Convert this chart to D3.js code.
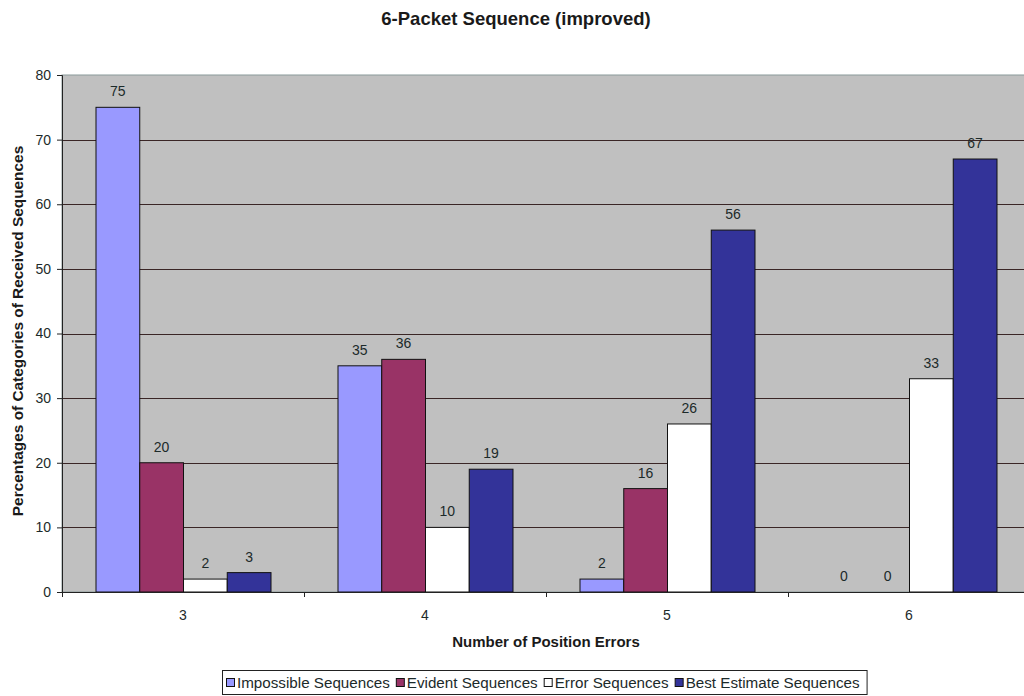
<!DOCTYPE html>
<html>
<head>
<meta charset="utf-8">
<script src="https://cdn.jsdelivr.net/npm/d3@7"></script>
<style>
  html, body { margin: 0; padding: 0; background: #fff; }
  svg { display: block; font-family: "Liberation Sans", Arial, sans-serif; }
</style>
</head>
<body>
<svg id="chart" width="1024" height="696"></svg>
<script>
// Number of position errors (x categories)
const categories = ["3", "4", "5", "6"];
// Series names
const seriesNames = ["Impossible Sequences", "Evident Sequences", "Error Sequences", "Best Estimate Sequences"];
// Percentages per series, one value per category
const impossible   = [75, 35, 2, 0];
const evident      = [20, 36, 16, 0];
const errorSeq     = [2, 10, 26, 33];
const bestEstimate = [3, 19, 56, 67];
const yTicks = [0, 10, 20, 30, 40, 50, 60, 70, 80];
const seriesColors = ["#9999FF", "#993366", "#FFFFFF", "#333399"];

const seriesValues = [impossible, evident, errorSeq, bestEstimate];

const svg = d3.select("#chart");
const plot = { left: 62, top: 75, right: 1030, bottom: 592 };

const x0 = d3.scaleBand().domain(categories).range([plot.left, plot.right]).padding(0);
const x1 = d3.scaleBand().domain(d3.range(seriesNames.length))
  .range([34, x0.bandwidth() - 33]).padding(0);
const y = d3.scaleLinear().domain([0, 80]).range([plot.bottom, plot.top]);

// Plot area background
svg.append("rect")
  .attr("x", plot.left).attr("y", plot.top)
  .attr("width", plot.right - plot.left).attr("height", plot.bottom - plot.top)
  .attr("fill", "#C0C0C0").attr("stroke", "#8a9a9a").attr("stroke-width", 1);

// Horizontal gridlines
svg.append("g")
  .selectAll("line")
  .data(yTicks.filter(t => t > 0 && t < 80))
  .join("line")
  .attr("x1", plot.left).attr("x2", plot.right)
  .attr("y1", d => Math.round(y(d)) + 0.5).attr("y2", d => Math.round(y(d)) + 0.5)
  .attr("stroke", "#3a2626").attr("stroke-width", 1);

// Bars
const groups = svg.append("g")
  .selectAll("g")
  .data(categories)
  .join("g")
  .attr("transform", d => `translate(${x0(d)},0)`);

groups.selectAll("rect")
  .data((c, ci) => seriesValues.map((vals, si) => ({ si, v: vals[ci] })))
  .join("rect")
  .filter(d => d.v > 0)
  .attr("x", d => x1(d.si))
  .attr("y", d => y(d.v))
  .attr("width", x1.bandwidth())
  .attr("height", d => y(0) - y(d.v))
  .attr("fill", d => seriesColors[d.si])
  .attr("stroke", "#111")
  .attr("stroke-width", 1);

// Value labels
groups.selectAll("text")
  .data((c, ci) => seriesValues.map((vals, si) => ({ si, v: vals[ci] })))
  .join("text")
  .attr("x", d => x1(d.si) + x1.bandwidth() / 2)
  .attr("y", d => y(d.v) - 11)
  .attr("text-anchor", "middle")
  .attr("font-size", 14)
  .attr("fill", "#1c2a2a")
  .text(d => d.v);

// Y axis
const yAxis = d3.axisLeft(y).tickValues(yTicks).tickSize(5).tickPadding(6).tickFormat(d3.format("d"));
const gy = svg.append("g").attr("transform", `translate(${plot.left},0)`).call(yAxis);
gy.select(".domain").attr("stroke", "#222");
gy.selectAll(".tick line").attr("stroke", "#222");
gy.selectAll(".tick text").attr("font-size", 14).attr("fill", "#1c2a2a")
  .attr("font-family", "Liberation Sans, Arial, sans-serif");

// X axis with tick marks at category boundaries
const xAxisLine = svg.append("g");
xAxisLine.append("line")
  .attr("x1", plot.left).attr("x2", plot.right)
  .attr("y1", plot.bottom + 0.5).attr("y2", plot.bottom + 0.5)
  .attr("stroke", "#222");
xAxisLine.selectAll("line.tick")
  .data(categories)
  .join("line")
  .attr("class", "tick")
  .attr("x1", d => x0(d) + 0.5).attr("x2", d => x0(d) + 0.5)
  .attr("y1", plot.bottom).attr("y2", plot.bottom + 5)
  .attr("stroke", "#222");
xAxisLine.selectAll("text")
  .data(categories)
  .join("text")
  .attr("x", d => x0(d) + x0.bandwidth() / 2)
  .attr("y", plot.bottom + 28)
  .attr("text-anchor", "middle")
  .attr("font-size", 14)
  .attr("fill", "#1c2a2a")
  .text(d => d);

// Titles
svg.append("text")
  .attr("x", 516).attr("y", 25)
  .attr("text-anchor", "middle")
  .attr("font-size", 18.5).attr("font-weight", "bold").attr("fill", "#1a1a1a")
  .text("6-Packet Sequence (improved)");

svg.append("text")
  .attr("transform", "translate(23,331) rotate(-90)")
  .attr("text-anchor", "middle")
  .attr("font-size", 15.4).attr("font-weight", "bold").attr("fill", "#1a1a1a")
  .text("Percentages of Categories of Received Sequences");

svg.append("text")
  .attr("x", 546).attr("y", 647)
  .attr("text-anchor", "middle")
  .attr("font-size", 15).attr("font-weight", "bold").attr("fill", "#1a1a1a")
  .text("Number of Position Errors");

// Legend
const legend = svg.append("g");
const legendBox = legend.append("rect")
  .attr("y", 670.5).attr("height", 24)
  .attr("fill", "#fff").attr("stroke", "#222").attr("stroke-width", 1);
let lx = 226;
const legendItems = legend.selectAll("g")
  .data(seriesNames)
  .join("g");
legendItems.each(function (name, i) {
  const g = d3.select(this);
  g.append("rect")
    .attr("x", lx + 0.5).attr("y", 678.5).attr("width", 8).attr("height", 8)
    .attr("fill", seriesColors[i]).attr("stroke", "#111");
  const t = g.append("text")
    .attr("x", lx + 11).attr("y", 688)
    .attr("font-size", 15.2).attr("fill", "#1c2a2a")
    .text(name);
  lx += 11 + t.node().getComputedTextLength() + 6;
});
legendBox.attr("x", 222.5).attr("width", lx - 222 + 1);
</script>
</body>
</html>
